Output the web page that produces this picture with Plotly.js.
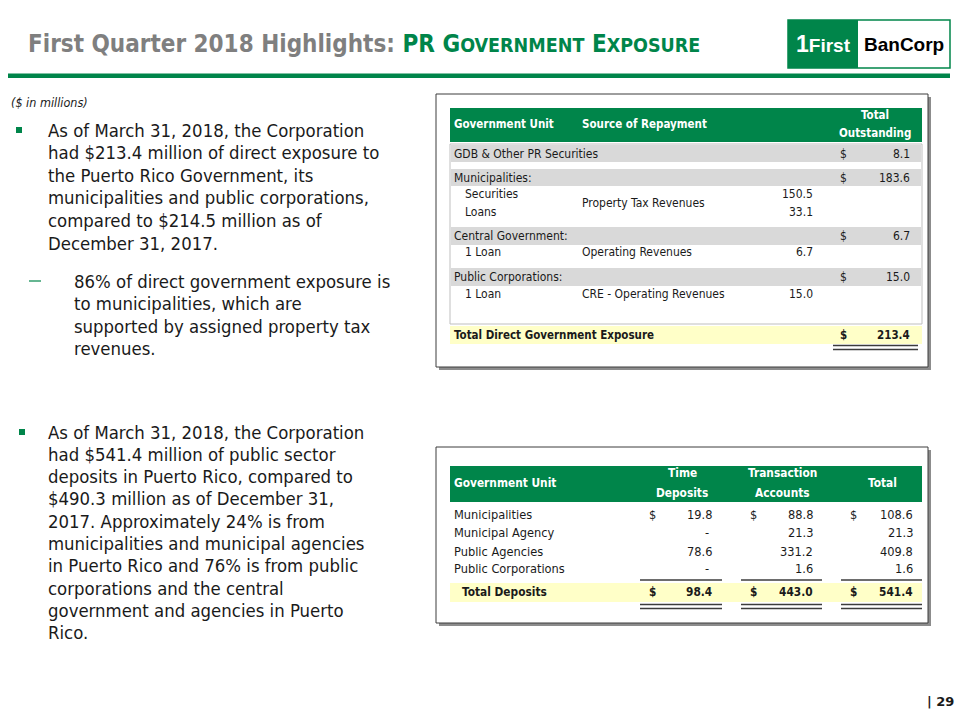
<!DOCTYPE html>
<html><head><meta charset="utf-8">
<script src="https://cdn.plot.ly/plotly-3.0.1.min.js"></script>
<style>html,body{margin:0;padding:0;background:#fff}</style>
</head><body><div id="chart" style="width:960px;height:720px"></div>
<script>
// ---------- DATA ----------
const exposureGroups = ["GDB & Other PR Securities", "Municipalities:", "Central Government:", "Public Corporations:"];
const exposureGroupTotals = [8.1, 183.6, 6.7, 15.0];
const exposureItems = ["Securities", "Loans", "1 Loan", "1 Loan"];
const exposureItemGroup = [1, 1, 2, 3];
const exposureItemValues = [150.5, 33.1, 6.7, 15.0];
const exposureSources = ["Property Tax Revenues", "Operating Revenues", "CRE - Operating Revenues"];
const exposureTotalLabel = "Total Direct Government Exposure";
const exposureTotal = 213.4;

const depositUnits = ["Municipalities", "Municipal Agency", "Public Agencies", "Public Corporations"];
const depositColumns = [["Time", "Deposits"], ["Transaction", "Accounts"], ["Total"]];
const timeDeposits = [19.8, null, 78.6, null];
const transactionAccounts = [88.8, 21.3, 331.2, 1.6];
const depositTotals = [108.6, 21.3, 409.8, 1.6];
const depositColTotals = [98.4, 443.0, 541.4];
const depositTotalLabel = "Total Deposits";

const bullet1 = ["As of March 31, 2018, the Corporation", "had $213.4 million of direct exposure to", "the Puerto Rico Government, its", "municipalities and public corporations,", "compared to $214.5 million as of", "December 31, 2017."];
const subBullet = ["86% of direct government exposure is", "to municipalities, which are", "supported by assigned property tax", "revenues."];
const bullet2 = ["As of March 31, 2018, the Corporation", "had $541.4 million of public sector", "deposits in Puerto Rico, compared to", "$490.3 million as of December 31,", "2017. Approximately 24% is from", "municipalities and municipal agencies", "in Puerto Rico and 76% is from public", "corporations and the central", "government and agencies in Puerto", "Rico."];

// ---------- STYLE ----------
const GREEN = "#00854a", GRAY_BAND = "#d9d9d9", YELLOW = "#ffffc8", TXT = "#1a1a1a";
const BODY_FONT = "DejaVu Sans Condensed, DejaVu Sans, sans-serif";
const TITLE_FONT = "DejaVu Sans Condensed, Liberation Sans Narrow, sans-serif";
const TBL_FONT = "DejaVu Sans Condensed, DejaVu Sans, sans-serif";
const fmt = v => (v === null ? "-" : v.toFixed(1));

const shapes = [], annotations = [];
function rect(x0, y0, x1, y1, fill, line, lw) {
  shapes.push({type: "rect", xref: "x", yref: "y", x0, y0, x1, y1, fillcolor: fill || "rgba(0,0,0,0)",
    line: {color: line || "rgba(0,0,0,0)", width: lw || 0}, layer: "below"});
}
function hline(x0, x1, y, color, w) {
  shapes.push({type: "line", xref: "x", yref: "y", x0, x1, y0: y, y1: y, line: {color, width: w}});
}
function txt(x, y, text, o) {
  o = o || {};
  annotations.push({x, y, xref: "x", yref: "y", text, showarrow: false,
    xanchor: o.xa || "left", yanchor: "middle",
    font: {family: o.family || TBL_FONT, size: o.size || 12, color: o.color || TXT}});
}

// Title & rule & logo
const g = s => "<span style='color:" + GREEN + "'>" + s + "</span>";
const gs = s => "<span style='color:" + GREEN + ";font-size:19.5px'>" + s + "</span>";
txt(26, 44, "<b>First Quarter 2018 Highlights: " + g("PR G") + gs("OVERNMENT") + g(" E") + gs("XPOSURE") + "</b>",
  {family: TITLE_FONT, size: 24, color: "#7f7f7f"});
rect(8, 73.5, 950, 78, GREEN);
rect(788, 20, 950, 68, "#ffffff", GREEN, 1.5);
rect(788, 20, 858, 68, GREEN);
txt(823, 44, "<b><span style='font-size:23px'>1</span>First</b>", {xa: "center", size: 19, color: "#ffffff", family: "Liberation Sans Narrow, sans-serif"});
txt(904, 44, "<b>BanCorp</b>", {xa: "center", size: 19, color: "#000000", family: "Liberation Sans Narrow, sans-serif"});
txt(940, 701, "<b>| 29</b>", {xa: "center", size: 13, family: "DejaVu Sans, sans-serif"});

// Left text
txt(9, 102, "<i>($ in millions)</i>", {size: 12.5, family: BODY_FONT});
const LH = 22.6;
rect(16, 127, 22, 133, GREEN);
bullet1.forEach((l, i) => txt(46, 130 + i * LH, l, {size: 18.4, family: BODY_FONT}));
hline(29, 41, 281, GREEN, 1.2);
subBullet.forEach((l, i) => txt(72, 281 + i * LH, l, {size: 18.4, family: BODY_FONT}));
rect(19, 429, 25, 435, GREEN);
bullet2.forEach((l, i) => txt(46, 432 + i * 22.3, l, {size: 18.4, family: BODY_FONT}));

// ---------- Table 1 ----------
const H1 = 11.5;
rect(439, 97, 931, 370, "#8c8c8c");
rect(436, 94, 928, 367, "#ffffff", "#3c3c3c", 1);
rect(450, 108, 922, 142, GREEN);
txt(452, 124, "<b>Government Unit</b>", {color: "#fff", size: H1});
txt(580, 124, "<b>Source of Repayment</b>", {color: "#fff", size: H1});
txt(875, 115, "<b>Total</b>", {xa: "center", color: "#fff", size: H1});
txt(875, 133, "<b>Outstanding</b>", {xa: "center", color: "#fff", size: H1});
rect(450, 144, 922, 324, "#ffffff", "#bfbfbf", 1);
const groupBand = [[145, 162], [169, 186], [227, 245], [268, 286]];
const itemY = [194, 212, 252, 294];
const sourceY = [203, 252, 294];
exposureGroups.forEach((gname, i) => {
  const [a, b] = groupBand[i];
  rect(451, a, 921, b, GRAY_BAND);
  const y = (a + b) / 2;
  txt(452, y, gname);
  txt(838, y, "$");
  txt(912, y, fmt(exposureGroupTotals[i]), {xa: "right"});
});
exposureItems.forEach((it, i) => {
  txt(463, itemY[i], it);
  txt(815, itemY[i], fmt(exposureItemValues[i]), {xa: "right"});
});
exposureSources.forEach((s, i) => txt(580, sourceY[i], s));
rect(450, 326, 922, 344, YELLOW);
txt(452, 335, "<b>" + exposureTotalLabel + "</b>", {size: H1});
txt(838, 335, "<b>$</b>", {size: H1});
txt(912, 335, "<b>" + fmt(exposureTotal) + "</b>", {xa: "right", size: H1});
hline(833, 918, 345.5, "#3c3c3c", 1.3);
hline(833, 918, 349.5, "#3c3c3c", 1.3);

// ---------- Table 2 ----------
const R2 = 12.7, H2 = 11.8;
rect(439, 450, 931, 626, "#8c8c8c");
rect(436, 447, 928, 623, "#ffffff", "#3c3c3c", 1);
rect(450, 466, 922, 502, GREEN);
txt(452, 483, "<b>Government Unit</b>", {color: "#fff", size: H2});
const colCenter = [682, 782, 882];
depositColumns.forEach((c, j) => {
  if (c.length === 2) {
    txt(colCenter[j], 473, "<b>" + c[0] + "</b>", {xa: "center", color: "#fff", size: H2});
    txt(colCenter[j], 493, "<b>" + c[1] + "</b>", {xa: "center", color: "#fff", size: H2});
  } else {
    txt(colCenter[j], 483, "<b>" + c[0] + "</b>", {xa: "center", color: "#fff", size: H2});
  }
});
const rowY = [514, 532, 551, 568];
const dollarX = [647, 748, 848], valRight = [714, 815, 915];
const seg = [[640, 722], [741, 822], [841, 922]];
const depCols = [timeDeposits, transactionAccounts, depositTotals];
depositUnits.forEach((u, i) => {
  txt(452, rowY[i], u, {size: R2});
  depCols.forEach((col, j) => {
    if (i === 0) txt(dollarX[j], rowY[i], "$", {size: R2});
    txt(col[i] === null ? valRight[j] - 3 : valRight[j], rowY[i], fmt(col[i]), {xa: "right", size: R2});
  });
});
seg.forEach(s => hline(s[0], s[1], 580, "#3c3c3c", 1.3));
rect(450, 583, 922, 602, YELLOW);
txt(460, 592, "<b>" + depositTotalLabel + "</b>", {size: H2});
depositColTotals.forEach((v, j) => {
  txt(dollarX[j], 592, "<b>$</b>", {size: H2});
  txt(valRight[j], 592, "<b>" + fmt(v) + "</b>", {xa: "right", size: H2});
});
seg.forEach(s => { hline(s[0], s[1], 604.5, "#3c3c3c", 1.3); hline(s[0], s[1], 608.5, "#3c3c3c", 1.3); });

const layout = {
  width: 960, height: 720, margin: {l: 0, r: 0, t: 0, b: 0},
  paper_bgcolor: "#ffffff", plot_bgcolor: "#ffffff", showlegend: false,
  xaxis: {range: [0, 960], visible: false, fixedrange: true},
  yaxis: {range: [720, 0], visible: false, fixedrange: true},
  shapes, annotations
};
Plotly.newPlot("chart", [{x: [], y: [], type: "scatter", mode: "markers", hoverinfo: "skip"}], layout, {staticPlot: true, displayModeBar: false});
</script></body></html>
